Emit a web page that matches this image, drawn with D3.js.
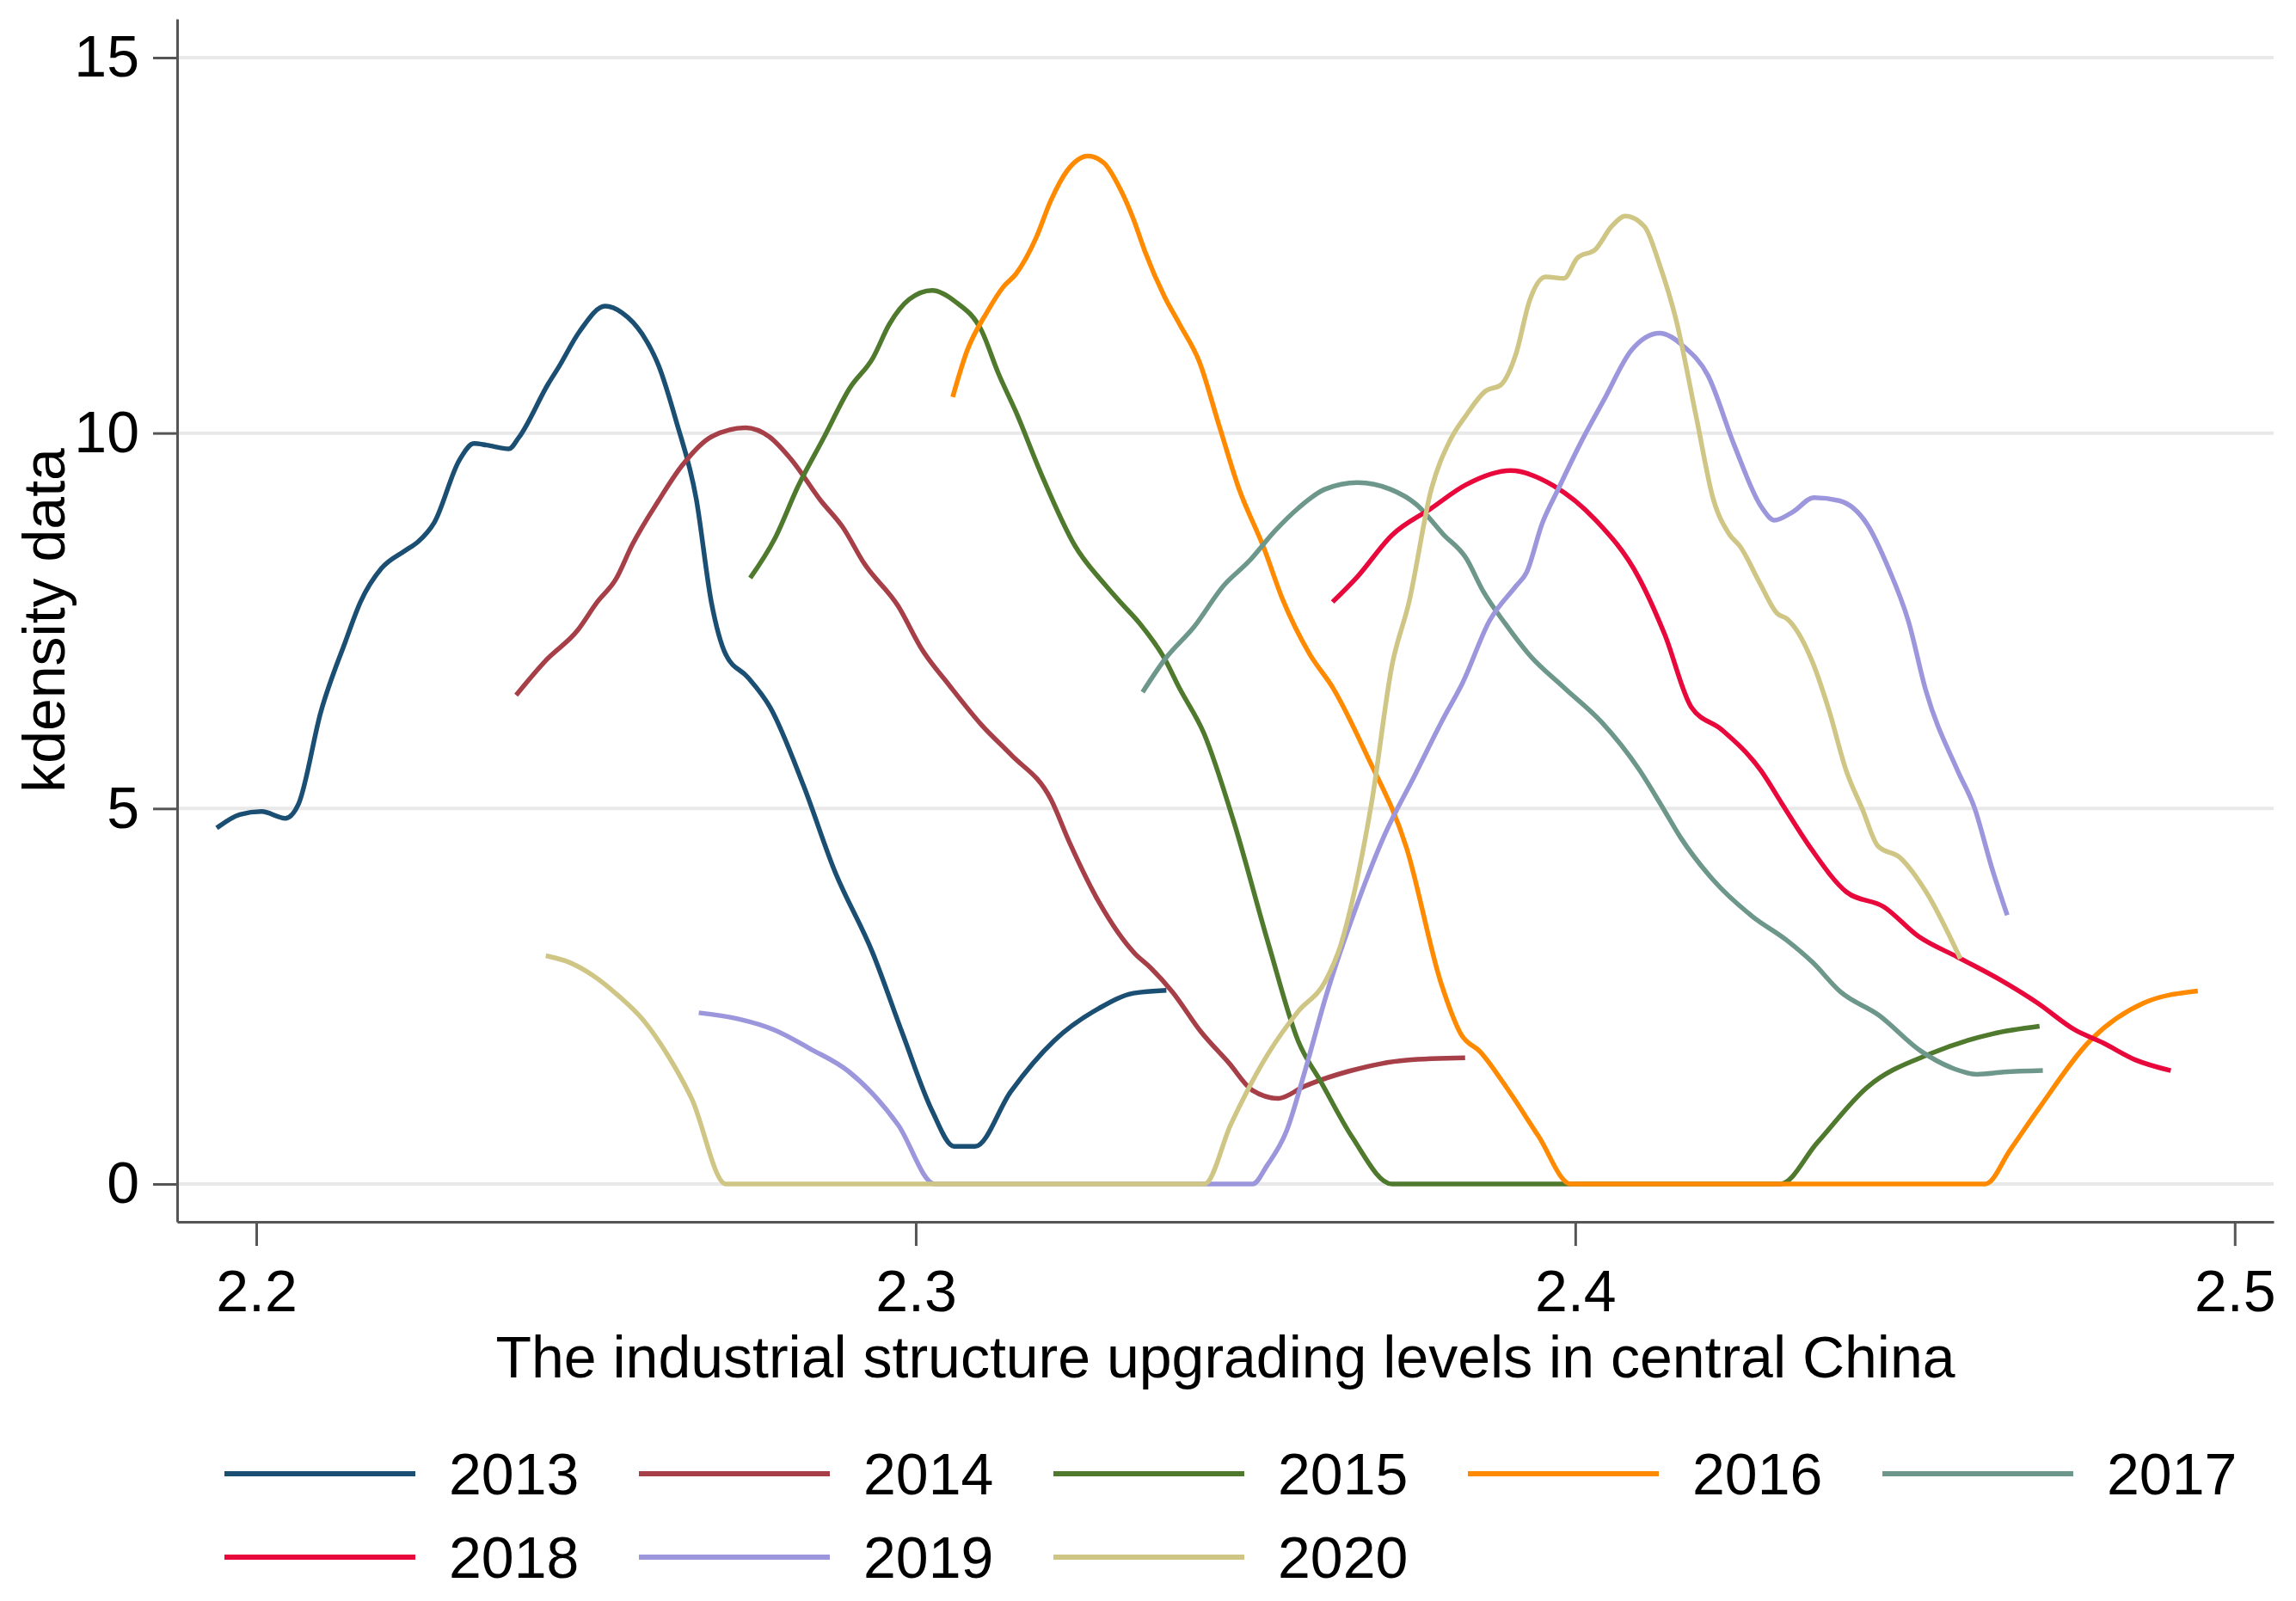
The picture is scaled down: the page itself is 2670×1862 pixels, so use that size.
<!DOCTYPE html>
<html>
<head>
<meta charset="utf-8">
<title>kdensity central China</title>
<script src="https://d3js.org/d3.v7.min.js"></script>
<style>
  body { margin: 0; background: #fff; }
  svg text { font-family: "Liberation Sans", Arial, sans-serif; fill: #000; }
</style>
</head>
<body>
<div id="chart"></div>
<script>
// kernel density curves, one array per year: [x, density]
var years = ["2013", "2014", "2015", "2016", "2017", "2018", "2019", "2020"];
var colors = ["#1a4f73", "#a63f48", "#4f792c", "#ff8a00", "#6c978a", "#e8083c", "#9c96dc", "#cfc685"];

var d2013 = [[2.194,4.74],[2.1975,4.92],[2.2008,4.96],[2.2044,4.87],[2.2064,5.06],[2.2098,6.29],[2.2135,7.22],[2.2158,7.75],[2.219,8.2],[2.2225,8.43],[2.2245,8.55],[2.227,8.81],[2.2308,9.64],[2.233,9.86],[2.2349,9.84],[2.2383,9.79],[2.2398,9.94],[2.2443,10.66],[2.2458,10.87],[2.249,11.35],[2.2529,11.69],[2.2555,11.6],[2.2585,11.32],[2.261,10.9],[2.2637,10.15],[2.2667,9.13],[2.269,7.75],[2.2712,7.05],[2.2745,6.75],[2.2779,6.35],[2.283,5.3],[2.2876,4.19],[2.2935,3.07],[2.298,2.0],[2.3025,0.97],[2.3058,0.5],[2.309,0.5],[2.3144,1.23],[2.321,1.91],[2.3278,2.34],[2.333,2.54],[2.338,2.58]];
var d2014 = [[2.2394,6.51],[2.244,6.98],[2.2487,7.37],[2.2517,7.75],[2.2545,8.05],[2.257,8.51],[2.261,9.1],[2.2645,9.56],[2.269,9.95],[2.2742,10.07],[2.2778,9.95],[2.2811,9.65],[2.2856,9.1],[2.2889,8.75],[2.2922,8.26],[2.2973,7.7],[2.301,7.11],[2.305,6.65],[2.31,6.11],[2.3144,5.72],[2.3205,5.12],[2.3233,4.55],[2.3278,3.75],[2.3332,3.07],[2.3356,2.88],[2.3389,2.56],[2.3433,2.02],[2.3475,1.61],[2.351,1.25],[2.355,1.14],[2.3589,1.3],[2.3656,1.5],[2.3744,1.65],[2.3833,1.68]];
var d2015 = [[2.2749,8.07],[2.2786,8.59],[2.2822,9.3],[2.286,9.93],[2.29,10.6],[2.2935,11.0],[2.296,11.45],[2.299,11.78],[2.3025,11.9],[2.306,11.75],[2.31,11.36],[2.3125,10.8],[2.3152,10.28],[2.319,9.46],[2.3242,8.49],[2.3287,7.98],[2.331,7.75],[2.334,7.46],[2.3377,7.0],[2.34,6.6],[2.3437,6.0],[2.3482,4.83],[2.3535,3.19],[2.358,1.9],[2.3615,1.35],[2.3662,0.62],[2.3722,0],[2.4311,0],[2.4367,0.55],[2.4443,1.29],[2.454,1.74],[2.4633,2.0],[2.4704,2.1]];
var d2016 = [[2.3056,10.48],[2.3078,11.1],[2.3108,11.61],[2.3133,11.95],[2.3152,12.12],[2.3182,12.59],[2.3205,13.1],[2.323,13.5],[2.3261,13.69],[2.3285,13.6],[2.331,13.25],[2.333,12.85],[2.3347,12.43],[2.3377,11.82],[2.34,11.45],[2.343,10.95],[2.346,10.1],[2.349,9.26],[2.3527,8.49],[2.3557,7.77],[2.3597,7.06],[2.3633,6.6],[2.3684,5.71],[2.3744,4.48],[2.3797,2.66],[2.3827,1.99],[2.3856,1.76],[2.39,1.23],[2.3944,0.64],[2.3993,0],[2.4622,0],[2.466,0.46],[2.4701,0.98],[2.4782,1.92],[2.4862,2.41],[2.4944,2.57]];
var d2017 = [[2.3344,6.55],[2.3378,6.99],[2.3422,7.42],[2.3467,7.97],[2.3505,8.29],[2.3545,8.7],[2.358,9.0],[2.362,9.25],[2.367,9.34],[2.372,9.25],[2.3759,9.05],[2.38,8.65],[2.3834,8.34],[2.386,7.9],[2.3894,7.46],[2.393,7.05],[2.3983,6.61],[2.404,6.15],[2.4096,5.53],[2.413,5.05],[2.416,4.61],[2.4209,4.05],[2.4269,3.56],[2.432,3.25],[2.436,2.95],[2.4402,2.56],[2.446,2.25],[2.4524,1.77],[2.457,1.55],[2.4609,1.46],[2.465,1.49],[2.4709,1.51]];
var d2018 = [[2.3632,7.75],[2.3669,8.08],[2.3722,8.64],[2.3782,9.0],[2.3834,9.31],[2.3902,9.5],[2.3967,9.3],[2.4031,8.84],[2.4096,8.08],[2.4136,7.31],[2.4176,6.35],[2.4222,6.05],[2.4282,5.5],[2.4313,5.07],[2.4358,4.46],[2.4411,3.89],[2.4468,3.69],[2.452,3.3],[2.458,3.02],[2.4644,2.72],[2.4701,2.41],[2.4758,2.05],[2.48,1.88],[2.485,1.65],[2.4903,1.51]];
var d2019 = [[2.2671,2.28],[2.273,2.2],[2.2786,2.05],[2.284,1.8],[2.2898,1.5],[2.2973,0.79],[2.3029,0],[2.3511,0],[2.3533,0.25],[2.3562,0.7],[2.359,1.5],[2.3622,2.5],[2.3667,3.67],[2.3711,4.65],[2.3756,5.43],[2.38,6.2],[2.3829,6.67],[2.387,7.5],[2.391,7.96],[2.3926,8.14],[2.395,8.8],[2.3974,9.25],[2.401,9.9],[2.4044,10.45],[2.4085,11.1],[2.4128,11.33],[2.4165,11.15],[2.4201,10.77],[2.4241,9.84],[2.4282,9.02],[2.4302,8.84],[2.433,8.95],[2.4362,9.14],[2.44,9.1],[2.4443,8.78],[2.4475,8.2],[2.4505,7.5],[2.4532,6.56],[2.458,5.5],[2.4605,5.02],[2.4632,4.2],[2.4655,3.58]];
var d2020 = [[2.2439,3.04],[2.2475,2.95],[2.251,2.78],[2.255,2.5],[2.2585,2.2],[2.2625,1.7],[2.266,1.14],[2.2712,0],[2.3438,0],[2.3478,0.8],[2.3534,1.73],[2.358,2.3],[2.3621,2.7],[2.3645,3.2],[2.3662,3.77],[2.3692,5.12],[2.3722,6.9],[2.3748,7.75],[2.3782,9.26],[2.381,9.9],[2.3834,10.23],[2.3864,10.56],[2.3887,10.64],[2.391,11.05],[2.3931,11.77],[2.3955,12.08],[2.3983,12.06],[2.4003,12.33],[2.4031,12.45],[2.4055,12.75],[2.4076,12.89],[2.4105,12.75],[2.4128,12.24],[2.4152,11.54],[2.4184,10.19],[2.4209,9.13],[2.4233,8.66],[2.425,8.49],[2.428,8.0],[2.4306,7.6],[2.4322,7.52],[2.4362,6.9],[2.4385,6.3],[2.4411,5.5],[2.4435,5.0],[2.4459,4.5],[2.4492,4.35],[2.4532,3.89],[2.4584,3.0]];
var series = [d2013, d2014, d2015, d2016, d2017, d2018, d2019, d2020];

var xTicks = [2.2, 2.3, 2.4, 2.5];
var yTicks = [0, 5, 10, 15];
var xTitle = "The industrial structure upgrading levels in central China";
var yTitle = "kdensity data";

var width = 2670, height = 1862;
// plot box (window.top is read-only, so no plain "top")
var plotL = 206, plotR = 2644, plotT = 22, plotB = 1421;
var fontSize = 68;

var svg = d3.select("#chart").append("svg")
    .attr("width", width)
    .attr("height", height);

var x = d3.scaleLinear().domain([2.188, 2.5059]).range([plotL, plotR]);
var y = d3.scaleLinear().domain([-0.504, 15.515]).range([plotB, plotT]);

// horizontal grid
svg.append("g").selectAll("line")
    .data(yTicks)
    .enter().append("line")
    .attr("x1", plotL).attr("x2", plotR)
    .attr("y1", function(d) { return y(d); })
    .attr("y2", function(d) { return y(d); })
    .attr("stroke", "#e9e9e9")
    .attr("stroke-width", 4);

// axes
var xAxis = svg.append("g")
    .attr("transform", "translate(0," + plotB + ")")
    .call(d3.axisBottom(x).tickValues(xTicks).tickSize(28).tickSizeOuter(0).tickPadding(28)
        .tickFormat(d3.format(".1f")));
var yAxis = svg.append("g")
    .attr("transform", "translate(" + plotL + ",0)")
    .call(d3.axisLeft(y).tickValues(yTicks).tickSize(28).tickSizeOuter(0).tickPadding(16));

[xAxis, yAxis].forEach(function(a) {
  a.select(".domain").attr("stroke", "#555").attr("stroke-width", 3);
  a.selectAll(".tick line").attr("stroke", "#555").attr("stroke-width", 3);
  a.selectAll(".tick text")
    .attr("font-size", fontSize)
    .attr("font-family", "Liberation Sans, Arial, sans-serif")
    .attr("fill", "#000");
});

// curves
var line = d3.line()
    .x(function(d) { return x(d[0]); })
    .y(function(d) { return y(d[1]); })
    .curve(d3.curveMonotoneX);

svg.append("g").selectAll("path")
    .data(series)
    .enter().append("path")
    .attr("d", line)
    .attr("fill", "none")
    .attr("stroke", function(d, i) { return colors[i]; })
    .attr("stroke-width", 5.5)
    .attr("stroke-linejoin", "round");

// axis titles
svg.append("text")
    .attr("x", (plotL + plotR) / 2)
    .attr("y", 1602)
    .attr("text-anchor", "middle")
    .attr("font-size", fontSize)
    .text(xTitle);

svg.append("text")
    .attr("transform", "translate(75," + (plotT + plotB) / 2 + ") rotate(-90)")
    .attr("text-anchor", "middle")
    .attr("font-size", fontSize)
    .text(yTitle);

// legend, 5 per row
var leg = svg.append("g").selectAll("g")
    .data(years)
    .enter().append("g")
    .attr("transform", function(d, i) {
        return "translate(" + (261 + 482 * (i % 5)) + "," + (1714 + 97 * Math.floor(i / 5)) + ")";
    });

leg.append("line")
    .attr("x1", 0).attr("x2", 222)
    .attr("stroke", function(d, i) { return colors[i]; })
    .attr("stroke-width", 6);

leg.append("text")
    .attr("x", 261)
    .attr("y", 24)
    .attr("font-size", fontSize)
    .text(function(d) { return d; });
</script>
</body>
</html>
